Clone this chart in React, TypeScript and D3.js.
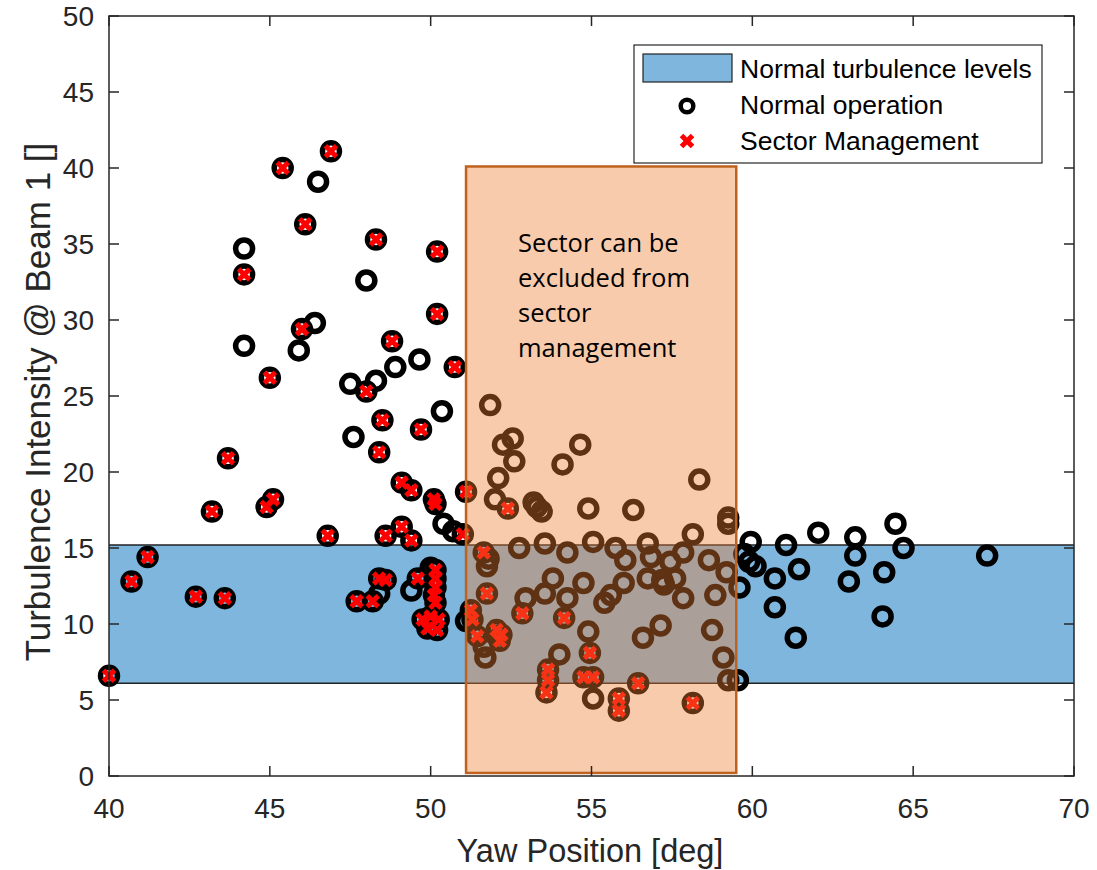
import React from "react";
import * as d3 from "d3";

// ---- data ----
const xTicks = [40, 45, 50, 55, 60, 65, 70];
const yTicks = [0, 5, 10, 15, 20, 25, 30, 35, 40, 45, 50];

// Normal turbulence band (y range) and excluded sector (x range, y range)
const normalBand = [6.1, 15.2];
const excludedSectorX = [51.1, 59.5];
const excludedSectorY = [0.2, 40.1];

// Normal operation points (circle only)
const normalOperation: [number, number][] = [
  [44.2, 34.7], [44.2, 28.3], [45.9, 28.0], [46.4, 29.8], [46.5, 39.1], [47.5, 25.8],
  [47.6, 22.3], [48.0, 32.6], [48.3, 26.0], [48.4, 12.0], [48.9, 26.9], [49.4, 12.2],
  [49.65, 27.4], [50.0, 13.7], [50.35, 24.0], [50.4, 16.6], [50.7, 16.1], [51.1, 10.2],
  [51.85, 24.4], [52.25, 21.8], [52.55, 22.2], [52.6, 20.7], [52.1, 19.6], [52.0, 18.2],
  [53.2, 18.0], [53.3, 17.7], [53.45, 17.4], [54.65, 21.8], [54.1, 20.5], [54.9, 17.6],
  [51.8, 14.3], [51.75, 13.8], [52.75, 15.0], [53.55, 15.3], [54.25, 14.7], [55.05, 15.4],
  [53.8, 13.0], [52.95, 11.7], [53.55, 12.0], [54.25, 11.7], [54.75, 12.7], [55.4, 11.4],
  [55.6, 11.9], [54.9, 9.5], [51.65, 8.5], [51.7, 7.8], [54.0, 8.0], [55.05, 5.1],
  [58.35, 19.5], [56.3, 17.5], [59.25, 17.0], [59.25, 16.6], [55.75, 15.0], [56.05, 14.2],
  [56.75, 15.3], [56.85, 14.4], [57.45, 14.1], [58.15, 15.9], [57.85, 14.7], [58.65, 14.2],
  [59.2, 13.4], [56.75, 13.0], [57.2, 12.9], [57.25, 12.6], [57.6, 13.0], [56.0, 12.7],
  [57.85, 11.7], [58.85, 11.9], [57.15, 9.9], [56.6, 9.1], [58.75, 9.6], [59.1, 7.8],
  [59.25, 6.3], [59.55, 6.3],
  [59.95, 15.4], [61.05, 15.2], [62.05, 16.0], [63.2, 15.7], [64.45, 16.6], [64.7, 15.0],
  [63.2, 14.5], [67.3, 14.5], [61.45, 13.6], [64.1, 13.4], [60.7, 13.0], [63.0, 12.8],
  [60.7, 11.1], [64.05, 10.5], [61.35, 9.1], [59.75, 14.6], [59.9, 14.1], [60.1, 13.8],
  [59.6, 12.4],
];

// Sector management points (circle + red cross)
const sectorManagement: [number, number][] = [
  [40.0, 6.6], [40.7, 12.8], [41.2, 14.4], [42.7, 11.8], [43.6, 11.7], [43.2, 17.4],
  [43.7, 20.9], [44.2, 33.0], [45.0, 26.2], [44.9, 17.7], [45.1, 18.2], [45.4, 40.0],
  [46.0, 29.4], [46.1, 36.3], [46.9, 41.1], [46.8, 15.8], [47.7, 11.5], [48.0, 25.3],
  [48.2, 11.5], [48.3, 35.3], [48.4, 21.3], [48.5, 23.4], [48.4, 13.0], [48.6, 12.9],
  [48.6, 15.8], [48.8, 28.6], [49.1, 19.3], [49.4, 18.8], [49.1, 16.4], [49.4, 15.5],
  [49.6, 13.0], [49.7, 22.8], [50.2, 34.5], [50.2, 30.4], [50.75, 26.9], [50.1, 18.2],
  [50.15, 17.9], [51.1, 18.7], [51.0, 15.9],
  [50.15, 13.55], [50.15, 13.0], [50.15, 12.4], [50.1, 11.9], [50.15, 11.4],
  [49.75, 10.3], [50.0, 10.5], [50.25, 10.3], [49.9, 9.7], [50.2, 9.6],
  [51.65, 14.7], [51.75, 12.0], [52.4, 17.6], [52.85, 10.7], [54.15, 10.4], [51.25, 10.9],
  [51.3, 10.3], [51.45, 9.2], [52.05, 9.6], [52.2, 9.3], [52.15, 8.9], [54.95, 8.1],
  [53.65, 7.0], [53.65, 6.3], [53.6, 5.5], [54.75, 6.5], [55.05, 6.5], [56.45, 6.1],
  [55.85, 5.1], [55.85, 4.3], [58.15, 4.8],
];

const legendLabels = ["Normal turbulence levels", "Normal operation", "Sector Management"];
const annotationLines = ["Sector can be", "excluded from", "sector", "management"];

// ---- layout ----
const W = 1097;
const H = 870;
const left = 109, right = 1074, top = 16, bottom = 776;
const axisColor = "#262626";
const font = "'Liberation Sans', Arial, sans-serif";

export default function App() {
  const x = d3.scaleLinear().domain([40, 70]).range([left, right]);
  const y = d3.scaleLinear().domain([0, 50]).range([bottom, top]);
  const allCircles = [...normalOperation, ...sectorManagement];
  const cross = (cx: number, cy: number, s: number) =>
    `M${cx - s},${cy - s}L${cx + s},${cy + s}M${cx - s},${cy + s}L${cx + s},${cy - s}`;
  const tick = 10;

  return (
    <svg width={W} height={H} style={{ position: "absolute", left: 0, top: 0, background: "#fff" }}>
      <rect x={0} y={0} width={W} height={H} fill="#fff" />
      {/* blue band */}
      <rect
        x={x(40)} y={y(normalBand[1])} width={x(70) - x(40)} height={y(normalBand[0]) - y(normalBand[1])}
        fill="#7EB6DE"
      />
      <line x1={x(40)} x2={x(70)} y1={y(normalBand[1])} y2={y(normalBand[1])} stroke="#222" strokeWidth={1.5} />
      <line x1={x(40)} x2={x(70)} y1={y(normalBand[0])} y2={y(normalBand[0])} stroke="#222" strokeWidth={1.5} />

      {/* circles */}
      <g>
        {allCircles.map((d, i) => (
          <circle key={i} cx={x(d[0])} cy={y(d[1])} r={8.5} fill="none" stroke="#000" strokeWidth={5.5} />
        ))}
      </g>
      <g>
        {sectorManagement.map((d, i) => (
          <path key={i} d={cross(x(d[0]), y(d[1]), 5.5)} stroke="#FF0000" strokeWidth={5} fill="none" />
        ))}
      </g>

      {/* excluded sector overlay */}
      <rect
        x={x(excludedSectorX[0])} y={y(excludedSectorY[1])}
        width={x(excludedSectorX[1]) - x(excludedSectorX[0])}
        height={y(excludedSectorY[0]) - y(excludedSectorY[1])}
        fill="#ED7D31" fillOpacity={0.4} stroke="#C0621F" strokeWidth={2.5}
      />
      <g fontFamily="'Open Sans', Lato, sans-serif" fontSize={25.5} fill="#000">
        {annotationLines.map((t, i) => (
          <text key={i} x={518} y={252 + i * 35}>{t}</text>
        ))}
      </g>

      {/* axes box */}
      <rect x={left} y={top} width={right - left} height={bottom - top} fill="none" stroke={axisColor} strokeWidth={1.5} />
      <g stroke={axisColor} strokeWidth={1.5}>
        {xTicks.map((t) => (
          <g key={"xt" + t}>
            <line x1={x(t)} x2={x(t)} y1={bottom} y2={bottom - tick} />
            <line x1={x(t)} x2={x(t)} y1={top} y2={top + tick} />
          </g>
        ))}
        {yTicks.map((t) => (
          <g key={"yt" + t}>
            <line x1={left} x2={left + tick} y1={y(t)} y2={y(t)} />
            <line x1={right} x2={right - tick} y1={y(t)} y2={y(t)} />
          </g>
        ))}
      </g>
      <g fontFamily={font} fontSize={28} fill={axisColor}>
        {xTicks.map((t) => (
          <text key={"xl" + t} x={x(t)} y={818} textAnchor="middle">{t}</text>
        ))}
        {yTicks.map((t) => (
          <text key={"yl" + t} x={94} y={y(t) + 10} textAnchor="end">{t}</text>
        ))}
      </g>
      <text x={590} y={862} textAnchor="middle" fontFamily={font} fontSize={32.5} fill={axisColor}>
        Yaw Position [deg]
      </text>
      <text
        transform={`translate(50, 402) rotate(-90)`}
        textAnchor="middle" fontFamily={font} fontSize={35} fill={axisColor}
      >
        Turbulence Intensity @ Beam 1 []
      </text>

      {/* legend */}
      <rect x={634} y={45} width={408} height={118} fill="#fff" stroke={axisColor} strokeWidth={1.2} />
      <rect x={643} y={54} width={89} height={28} fill="#7EB6DE" stroke="#222" strokeWidth={1.2} />
      <circle cx={687} cy={106} r={6.3} fill="none" stroke="#000" strokeWidth={4.5} />
      <path d={cross(687, 141, 5.5)} stroke="#FF0000" strokeWidth={5} />
      <g fontFamily={font} fontSize={26.5} fill="#000">
        {legendLabels.map((t, i) => (
          <text key={t} x={740} y={78 + i * 36}>{t}</text>
        ))}
      </g>
    </svg>
  );
}
